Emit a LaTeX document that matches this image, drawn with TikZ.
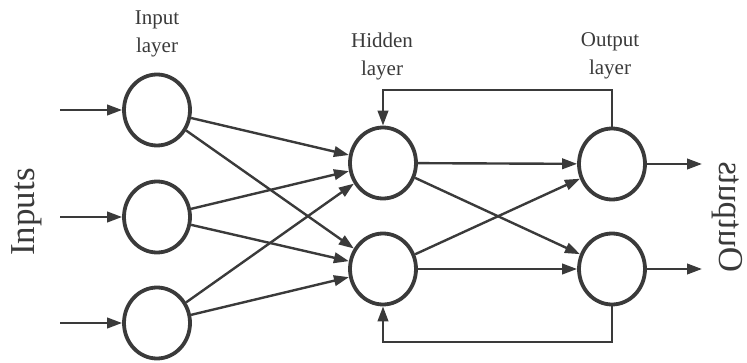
\documentclass[tikz,border=0pt]{standalone}
\usepackage{fontspec}
\setmainfont{Liberation Serif}
\usetikzlibrary{shapes.geometric,arrows.meta}
\definecolor{ink}{HTML}{3A3A3A}
\tikzset{
  neuron/.style={ellipse, draw=ink, line width=3.8pt, minimum width=66pt, minimum height=71pt, inner sep=0pt},
  arr/.style={draw=ink, line width=2.4pt, -{Triangle[length=15pt,width=10.5pt]}},
  lbl/.style={text=ink, align=center, font=\fontsize{21}{28}\selectfont},
  big/.style={text=ink, font=\fontsize{35}{40}\selectfont}
}
\begin{document}
\begin{tikzpicture}[x=1pt,y=-1pt]
\useasboundingbox (0,0) rectangle (747,363);
% neurons
\node[neuron] (i1) at (157,110) {};
\node[neuron] (i2) at (157,217) {};
\node[neuron] (i3) at (157,323) {};
\node[neuron] (h1) at (383,163) {};
\node[neuron] (h2) at (383,269) {};
\node[neuron] (o1) at (612,164) {};
\node[neuron] (o2) at (612,269) {};
% labels
\node[lbl] (li) at (157,34) {Input\\layer};
\node[lbl] (lh) at (382,56) {Hidden\\layer};
\node[lbl] (lo) at (610,56) {Output\\layer};
\node[big, rotate=90] (ins) at (27,212) {Inputs};
\node[big, rotate=90, yscale=-1] (outs) at (727,217) {Outputs};
% input arrows
\coordinate (a1) at (60,110);
\coordinate (a2) at (60,217);
\coordinate (a3) at (60,323);
\draw[arr] (a1) -- (i1);
\draw[arr] (a2) -- (i2);
\draw[arr] (a3) -- (i3);
% input -> hidden
\foreach \s in {i1,i2,i3}{
  \foreach \t in {h1,h2}{
    \draw[arr] (\s) -- (\t);
  }
}
% hidden -> output
\foreach \s in {h1,h2}{
  \foreach \t in {o1,o2}{
    \draw[arr] (\s) -- (\t);
  }
}
% output arrows
\coordinate (b1) at (702,164);
\coordinate (b2) at (702,269);
\draw[arr] (o1) -- (b1);
\draw[arr] (o2) -- (b2);
% feedback loops
\coordinate (ft) at (612,90);
\coordinate (fb) at (612,342);
\draw[arr] (o1.north) -- (ft) -| (h1.north);
\draw[arr] (o2.south) -- (fb) -| (h2.south);
\end{tikzpicture}
\end{document}
